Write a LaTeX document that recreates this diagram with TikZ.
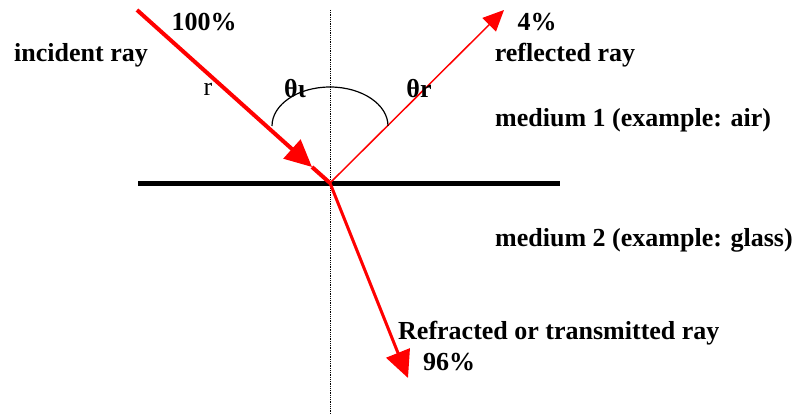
\documentclass[tikz,border=0pt]{standalone}
\usepackage{fontspec}
\setmainfont{Liberation Serif}
\usetikzlibrary{arrows.meta}
\begin{document}
\begin{tikzpicture}[x=1pt,y=-1pt,
  lbl/.style={font=\fontsize{26}{30}\selectfont\bfseries, inner sep=0pt},
  ray/.style={draw=red, line width=#1},
  bigtip/.style={-{Triangle[length=27pt,width=25pt]}},
  smalltip/.style={-{Triangle[length=21pt,width=19pt]}}]
\useasboundingbox (0,0) rectangle (797,414);
% normal and surface
\coordinate (O) at (330,183);
\coordinate (ntop) at (330,10);
\coordinate (nbot) at (330,414);
\coordinate (sl) at (138,184);
\coordinate (sr) at (560,184);
\draw[densely dotted, line width=0.8pt] (ntop) -- (nbot);
\draw[line width=5pt] (sl) -- (sr);
% incident ray
\coordinate (istart) at (137,10);
\coordinate (itip) at (312,167);
\draw[ray=4pt, red, bigtip] (istart) -- (itip);
\draw[ray=4pt] (itip) -- (O);
% reflected ray
\coordinate (rtip) at (504,10);
\draw[ray=1.5pt, red, smalltip] (O) -- (rtip);
% refracted ray
\coordinate (ttip) at (408,378);
\draw[ray=3pt, red, bigtip] (O) -- (ttip);
% angle arc
\coordinate (arcL) at (272,126);
\draw[line width=1.2pt] (arcL) arc[start angle=180, end angle=360, x radius=58, y radius=39];
% labels
\node[lbl] (p100) at (204,22) {100\%};
\node[lbl] (inc) at (81,55) {incident ray};
\node[inner sep=0pt, font=\fontsize{26}{30}\selectfont] (r) at (208,89) {r};
\node[lbl] (thi) at (295,89) {θι};
\node[lbl] (thr) at (419,89) {θr};
\node[lbl] (p4) at (537,22) {4\%};
\node[lbl] (refl) at (565,55) {reflected ray};
\node[lbl, anchor=west] (m1) at (495,120) {medium 1 (example: air)};
\node[lbl, anchor=west] (m2) at (495,240) {medium 2 (example: glass)};
\node[lbl, anchor=west] (refr) at (398,333) {Refracted or transmitted ray};
\node[lbl] (p96) at (449,362) {96\%};
\end{tikzpicture}
\end{document}
